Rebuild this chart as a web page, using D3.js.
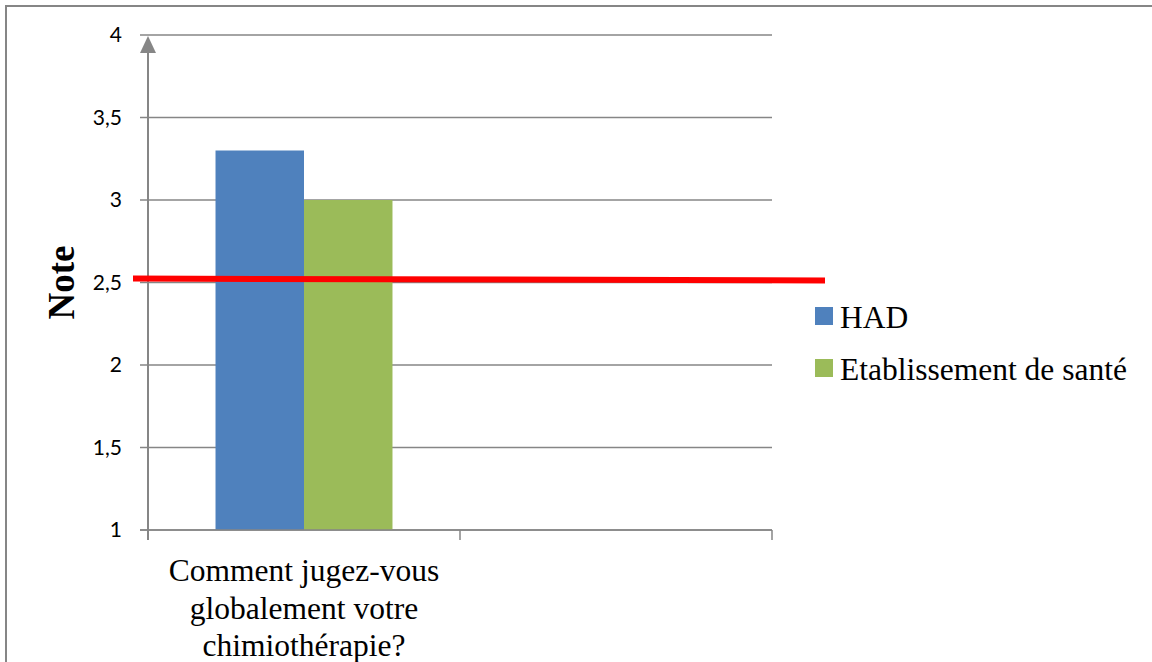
<!DOCTYPE html>
<html><head><meta charset="utf-8">
<script src="https://cdn.jsdelivr.net/npm/d3@7"></script>
<style>body{margin:0;background:#fff}svg{display:block}</style>
</head><body><svg id="c" width="1152" height="662"></svg>
<script>
const categories = ["Comment jugez-vous globalement votre chimiothérapie?", ""];
const categoryLines = [["Comment jugez-vous","globalement votre","chimiothérapie?"], []];
const seriesNames = ["HAD", "Etablissement de santé"];
const hadValues = [3.3, null];
const etabValues = [3.0, null];
const yTicks = [1, 1.5, 2, 2.5, 3, 3.5, 4];
const yTickLabels = ["1", "1,5", "2", "2,5", "3", "3,5", "4"];
const refLine = [2.524, 2.512];
const colors = ["#4F81BD", "#9BBB59"];

const svg = d3.select("#c");
const L = 148, R = 772, T = 35, B = 530;
const x = d3.scaleBand().domain(d3.range(categories.length)).range([L, R]);
const y = d3.scaleLinear().domain([1, 4]).range([B, T]);
const grey = "#868686";
const serif = "'Liberation Serif', 'Times New Roman', serif";

// frame
svg.append("rect").attr("x", 6).attr("y", 6).attr("width", 1160).attr("height", 680)
  .attr("fill", "none").attr("stroke", grey).attr("stroke-width", 2);

// gridlines
svg.append("g").selectAll("line").data(yTicks).join("line")
  .attr("x1", L - 8).attr("x2", R).attr("y1", d => y(d)).attr("y2", d => y(d))
  .attr("stroke", grey).attr("stroke-width", 1.5);

// y tick labels
svg.append("g").selectAll("text").data(yTicks).join("text")
  .attr("x", 122).attr("y", d => y(d)).attr("dy", "0.35em").attr("text-anchor", "end")
  .style("font-family", "Lato, 'Open Sans', sans-serif").style("font-size", "21px").attr("fill", "#000")
  .text((d, i) => yTickLabels[i]);

// bars
const sub = d3.scaleBand().domain([0, 1]).range([0, x.bandwidth()]).paddingOuter(0.763);
const series = [hadValues, etabValues];
series.forEach((vals, si) => {
  svg.append("g").selectAll("rect").data(vals.map((v, i) => ({v, i})).filter(d => d.v != null)).join("rect")
    .attr("x", d => x(d.i) + sub(si)).attr("width", sub.bandwidth())
    .attr("y", d => y(d.v)).attr("height", d => y(1) - y(d.v))
    .attr("fill", colors[si]);
});

// x axis line + ticks
svg.append("line").attr("x1", L - 8).attr("x2", R).attr("y1", B).attr("y2", B).attr("stroke", grey).attr("stroke-width", 1.5);
const xt = d3.range(categories.length + 1).map(i => L + i * x.step());
svg.append("g").selectAll("line").data(xt).join("line")
  .attr("x1", d => d).attr("x2", d => d).attr("y1", B).attr("y2", B + 10)
  .attr("stroke", grey).attr("stroke-width", 1.5);

// y axis with arrow
svg.append("line").attr("x1", L).attr("x2", L).attr("y1", B + 10).attr("y2", y(4) + 14)
  .attr("stroke", grey).attr("stroke-width", 2);
svg.append("path").attr("d", `M${L - 8},${y(4) + 18} L${L},${y(4) + 1} L${L + 8},${y(4) + 18} Z`).attr("fill", grey);

// category labels
categoryLines.forEach((lines, i) => {
  const t = svg.append("text").attr("text-anchor", "middle")
    .style("font-family", serif).style("font-size", "31.5px");
  lines.forEach((ln, k) => t.append("tspan").attr("x", x(i) + x.bandwidth() / 2).attr("y", 581 + k * 37.5).text(ln));
});

// y title
svg.append("text").attr("transform", `translate(74,${y(2.5)}) rotate(-90)`).attr("text-anchor", "middle")
  .style("font-family", serif).style("font-size", "37px").style("font-weight", "bold")
  .text("Note");

// red reference line
svg.append("line").attr("x1", L - 15).attr("x2", R + 53).attr("y1", y(refLine[0])).attr("y2", y(refLine[1]))
  .attr("stroke", "#FF0000").attr("stroke-width", 6);

// legend
const lg = svg.append("g");
seriesNames.forEach((n, i) => {
  lg.append("rect").attr("x", 815).attr("y", 307 + i * 52).attr("width", 18).attr("height", 18).attr("fill", colors[i]);
  lg.append("text").attr("x", 840).attr("y", 317 + i * 52).attr("dy", "0.35em")
    .style("font-family", serif).style("font-size", "31.5px").text(n);
});
</script></body></html>
